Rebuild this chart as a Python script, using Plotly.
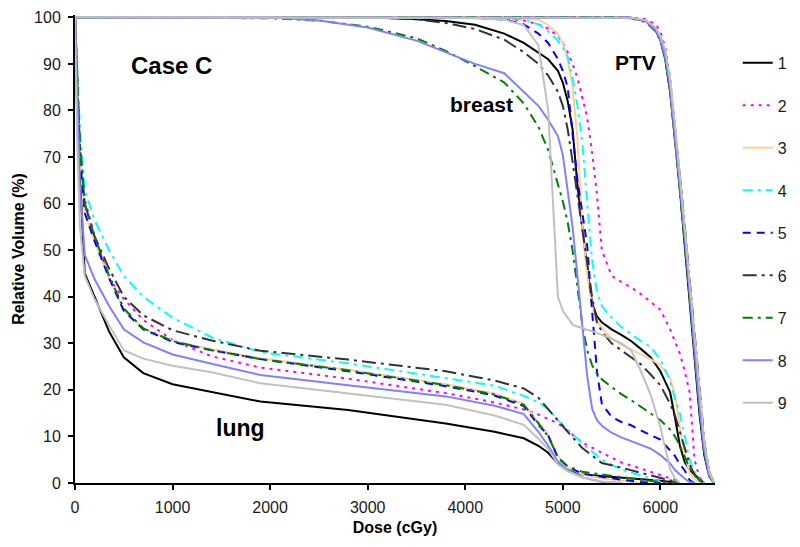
import plotly.graph_objects as go

# ---------------- data ----------------
SERIES = ["1", "2", "3", "4", "5", "6", "7", "8", "9"]

LUNG_DOSE = [0, 20, 50, 100, 200, 350, 500, 700, 1000, 1400, 1900, 2800, 3800,
             4300, 4600, 4750, 4850, 4950, 5050, 5200, 5400, 5600, 5800, 6000, 6200]
LUNG_1 = [100, 82, 66, 45, 40, 32.5, 27, 23.6, 21.2, 19.6, 17.5, 15.7, 12.8, 11.0, 9.6, 8.0, 6.5, 4.2, 2.8, 1.8, 1.5, 1.2, 0.9, 0.5, 0]
LUNG_2 = [100, 88, 72, 61, 53, 44, 39.5, 35, 30.7, 27.2, 24.8, 22.4, 19.3, 17.3, 15.8, 14.7, 13.8, 12.8, 11.2, 8.7, 6.5, 4.4, 3.1, 1.7, 0.3]
LUNG_3 = [100, 87, 70, 58, 52, 44, 37, 33.2, 30.5, 28.7, 26.8, 24.3, 21.2, 19.2, 17.0, 13.0, 10.5, 5.8, 3.4, 1.8, 1.0, 0.5, 0, None, None]
LUNG_4 = [100, 90, 76, 63, 56.5, 50, 44.5, 40, 35.5, 31.3, 28.1, 25.7, 22.5, 20.9, 18.7, 17.3, 15.9, 13.5, 11.5, 8.5, 5.0, 2.9, 1.6, 0.3, None]
LUNG_5 = [100, 88, 70, 58, 52, 44, 37, 33, 30.3, 28.5, 26.6, 24.0, 20.8, 18.8, 16.5, 12.5, 10.2, 5.4, 3.5, 2.0, 1.3, 0.7, 0.2, 0, None]
LUNG_6 = [100, 88, 72, 60, 53, 46, 40, 36, 32.8, 30.6, 28.4, 26.5, 24.0, 22.0, 20.3, 18.3, 15.8, 13.3, 11.0, 7.5, 4.3, 3.3, 2.2, 1.2, 0]
LUNG_7 = [100, 90, 73, 60, 53, 44.5, 37.5, 33.2, 30.5, 28.5, 26.6, 24.2, 21.0, 19.0, 16.8, 12.8, 10.0, 5.5, 3.6, 2.4, 1.8, 1.3, 0.7, 0.2, 0]
LUNG_8 = [100, 85, 64, 49, 43.8, 38, 33, 30.2, 27.6, 25.6, 23.2, 21.0, 18.6, 16.6, 14.8, 11.0, 8.0, 4.6, 2.8, 1.2, 0.2, 0, None, None, None]
LUNG_9 = [100, 75, 55, 44.5, 39.5, 33.8, 28.5, 26.7, 25.2, 23.8, 21.4, 19.2, 16.8, 14.5, 12.5, 9.5, 7.3, 4.0, 2.5, 1.2, 0.3, 0, None, None, None]

BREAST_DOSE = [0, 2000, 2500, 3000, 3500, 3800, 4100, 4400, 4600, 4750, 4850, 4950, 5000, 5050, 5100, 5150,
               5200, 5250, 5300, 5350, 5400, 5500, 5600, 5700, 5800, 5900, 6000, 6100, 6150, 6200,
               6250, 6300, 6350, 6400, 6450]
BREAST_1 = [100, 100, 100, 100, 99.6, 99.2, 98.4, 96.5, 94.5, 92.5, 91, 88.5, 86, 82, 76, 64,
            55, 46, 38.5, 35.8, 34.5, 33, 31.8, 30.5, 28.8, 27, 24, 19.5, 14, 8,
            4.5, 2.8, 1.8, 0.9, 0]
BREAST_2 = [100, 100, 100, 100, 100, 100, 99.9, 99.7, 99.3, 98.5, 97.6, 96, 94.5, 92.5, 90, 87,
            83, 78.5, 71, 62, 50, 44.5, 43.2, 42, 40.6, 39, 37.2, 33, 30.5, 27.8,
            24, 19.5, 5, 1.2, 0]
BREAST_3 = [100, 100, 100, 100, 100, 100, 100, 99.9, 99.8, 99.5, 98.3, 96.5, 94.5, 91, 85, 74,
            55, 45, 38, 35, 33.3, 31, 29.7, 28.6, 27.6, 26.6, 25.3, 22.5, 19, 12,
            6, 2.2, 0.8, 0.2, 0]
BREAST_4 = [100, 100, 100, 100, 100, 100, 100, 99.8, 99.5, 98.5, 97, 95, 93.5, 91.5, 87, 81,
            73, 60, 48, 41, 38, 35.5, 33.5, 32, 30.5, 29.2, 26.5, 22, 18, 15,
            10, 5, 2.5, 0.6, 0]
BREAST_5 = [100, 100, 100, 100, 100, 100, 99.9, 99.5, 98.5, 96.5, 94.5, 91, 88.5, 85, 75.5, 65,
            58, 51, 37, 24, 17, 14.2, 13.1, 12.4, 11.3, 10.3, 9.3, 7, 5.8, 4,
            2.7, 0.6, 0, None, None]
BREAST_6 = [100, 100, 100, 100, 99.6, 98.8, 97.5, 95.2, 92.5, 90, 87.5, 84, 81, 76, 69, 62,
            55, 48, 40, 34.5, 32.5, 30, 28.5, 27, 25.5, 23.3, 21, 17, 14.5, 11,
            7.5, 4, 1.8, 0.5, 0]
BREAST_7 = [100, 99.8, 99.3, 98, 95.5, 92.8, 89.5, 86, 81.5, 76.5, 71.5, 64.5, 60.5, 56, 50, 42,
            34, 28.5, 25.3, 23.5, 22.3, 20.6, 19.1, 17.8, 16.4, 15, 13.5, 11.5, 10, 8,
            5.5, 3.3, 1.7, 0.6, 0]
BREAST_8 = [100, 100, 99.3, 97.8, 95, 92.5, 90, 88, 84, 81, 78, 74.5, 70.5, 63, 55, 44.5,
            33, 23, 16, 13.5, 12.3, 10.8, 9.8, 9.0, 8.3, 7.4, 6.0, 4.2, 2.8, 1.8,
            0.9, 0.2, 0, None, None]
BREAST_9 = [100, 100, 100, 100, 100, 99.9, 99.8, 99.5, 98.3, 94, 80, 40, 37, 35.5, 34, 33.6,
            33.2, 32.9, 32.6, 32.2, 31.8, 31, 30, 28.5, 24, 19, 12, 3, 1, 0,
            None, None, None, None, None]

PTV_DOSE = [0, 5500, 5700, 5850, 5950, 6000, 6050, 6100, 6150, 6200, 6250, 6300, 6350, 6400, 6450, 6500, 6550]
PTV_1 = [100, 100, 99.9, 99.2, 97.2, 95.2, 91, 84, 74, 63, 51, 39, 27, 15, 6, 1.5, 0]
PTV_2 = [100, 100, 100, 99.6, 98.5, 97, 93.5, 87, 77, 66, 55, 43, 31, 19, 8, 2, 0]
PTV_3 = [100, 100, 99.9, 99.3, 97.5, 95.5, 92, 85, 75, 64, 53, 41, 29, 17, 7, 1.8, 0]
PTV_4 = [100, 100, 99.9, 99.3, 97.5, 95.5, 92, 85.5, 76, 65, 54, 42, 30, 18, 7.5, 2, 0]
PTV_5 = [100, 100, 99.9, 99.2, 97.4, 95.4, 91.5, 85, 75, 64, 52.5, 40.5, 28.5, 16.5, 6.5, 1.6, 0]
PTV_6 = [100, 100, 99.9, 99.3, 97.6, 95.8, 92.5, 86, 76.5, 66, 55, 44, 33, 21, 9, 2.5, 0]
PTV_7 = [100, 100, 99.8, 99.0, 97.0, 95.0, 91, 84, 74, 63, 52, 40, 28, 16, 6.5, 1.8, 0]
PTV_8 = [100, 100, 99.9, 99.2, 97.3, 95.3, 91.5, 85, 75, 64, 53, 41, 29, 17, 7, 1.8, 0]
PTV_9 = [100, 100, 99.9, 99.4, 97.8, 96, 93, 86.5, 77, 66, 55, 43.5, 32, 20.5, 9, 2.5, 0]

X_TICKS = [0, 1000, 2000, 3000, 4000, 5000, 6000]
Y_TICKS = [0, 10, 20, 30, 40, 50, 60, 70, 80, 90, 100]

LUNG = [LUNG_1, LUNG_2, LUNG_3, LUNG_4, LUNG_5, LUNG_6, LUNG_7, LUNG_8, LUNG_9]
BREAST = [BREAST_1, BREAST_2, BREAST_3, BREAST_4, BREAST_5, BREAST_6, BREAST_7, BREAST_8, BREAST_9]
PTV = [PTV_1, PTV_2, PTV_3, PTV_4, PTV_5, PTV_6, PTV_7, PTV_8, PTV_9]

# ---------------- styles ----------------
COLORS = ["#000000", "#FF00FF", "#FFCC99", "#00FFFF", "#0000FF", "#333333", "#008000", "#8080FF", "#C0C0C0"]
DASHES = ["solid", "3px,5px", "solid", "10px,5px,3px,5px", "8px,6px", "14px,5px,3px,5px",
          "10px,5px,3px,5px", "solid", "solid"]

FONT = "Liberation Sans, Arial, sans-serif"
TXT = "#1a1a1a"

fig = go.Figure()
for i, name in enumerate(SERIES):
    xs, ys = [], []
    for dose, vol in ((BREAST_DOSE, BREAST[i]), (PTV_DOSE, PTV[i]), (LUNG_DOSE, LUNG[i])):
        for d, v in zip(dose, vol):
            if v is not None:
                xs.append(d)
                ys.append(v)
        xs.append(None)
        ys.append(None)
    fig.add_trace(go.Scatter(
        x=xs, y=ys, mode="lines", name=name, legendgroup=name,
        connectgaps=False,
        line=dict(color=COLORS[i], width=2, dash=DASHES[i]),
    ))

# page body has an 8px default margin, so the figure is 8px smaller and offset
fig.update_layout(
    width=792, height=539,
    margin=dict(l=67, r=85, t=7, b=64, autoexpand=False),
    paper_bgcolor="white", plot_bgcolor="white",
    font=dict(family=FONT, size=16, color=TXT),
    showlegend=True,
    legend=dict(x=1.0355, y=0.934, xanchor="left", yanchor="top",
                font=dict(family=FONT, size=16, color=TXT),
                tracegroupgap=18.7, bgcolor="rgba(0,0,0,0)"),
    xaxis=dict(range=[0, 6560], tickvals=X_TICKS, ticks="outside", ticklen=5, tickwidth=1.5,
               tickcolor="#000000", showline=True, linecolor="#000000", linewidth=2,
               showgrid=False, zeroline=False, automargin=False, ticklabelstandoff=4,
               title=dict(text="<b>Dose (cGy)</b>", font=dict(family=FONT, size=16, color="#000000"), standoff=7),
               tickfont=dict(family=FONT, size=16, color=TXT)),
    yaxis=dict(range=[0, 100.5], tickvals=Y_TICKS, ticks="outside", ticklen=5, tickwidth=1.5,
               tickcolor="#000000", showline=True, linecolor="#000000", linewidth=2,
               showgrid=False, zeroline=False, automargin=False, ticklabelstandoff=4,
               title=dict(text="<b>Relative Volume (%)</b>", font=dict(family=FONT, size=16, color="#000000"), standoff=5),
               tickfont=dict(family=FONT, size=16, color=TXT)),
    annotations=[
        dict(x=990, y=89.6, xref="x", yref="y", text="<b>Case C</b>", showarrow=False,
             font=dict(family=FONT, size=24, color="#000000")),
        dict(x=5750, y=90.3, xref="x", yref="y", text="<b>PTV</b>", showarrow=False,
             font=dict(family=FONT, size=21, color="#000000")),
        dict(x=4165, y=81.3, xref="x", yref="y", text="<b>breast</b>", showarrow=False,
             font=dict(family=FONT, size=21, color="#000000")),
        dict(x=1700, y=11.8, xref="x", yref="y", text="<b>lung</b>", showarrow=False,
             font=dict(family=FONT, size=23, color="#000000")),
    ],
)

fig.write_html("out.html")
